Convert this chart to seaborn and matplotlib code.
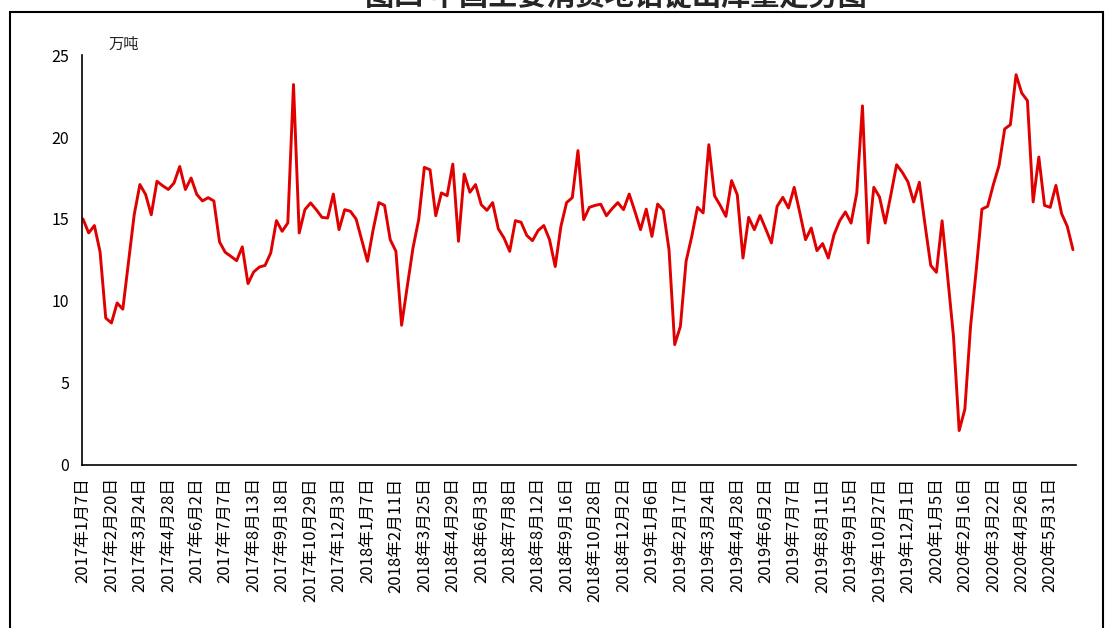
import numpy as np
import pandas as pd
import matplotlib
matplotlib.use("Agg")
import matplotlib.pyplot as plt
from matplotlib.patches import Rectangle
from matplotlib.ticker import FixedLocator
import seaborn as sns

# ── Data (weekly, 万吨) ─────────────────────
TITLE = "图四 中国主要消费地铝锭出库量走势图"
UNIT = "万吨"

values = [
    15.0, 14.15, 14.6, 13.0, 8.96, 8.66, 9.88, 9.5, 12.4, 15.26,
    17.1, 16.5, 15.26, 17.3, 17.03, 16.8, 17.2, 18.2, 16.8, 17.5,
    16.5, 16.1, 16.3, 16.1, 13.6, 12.97, 12.72, 12.46, 13.3, 11.06,
    11.77, 12.07, 12.17, 12.93, 14.9, 14.25, 14.76, 23.2, 14.15, 15.57,
    15.98, 15.57, 15.1, 15.06, 16.52, 14.35, 15.57, 15.47, 15.0, 13.7,
    12.42, 14.35, 16.0, 15.83, 13.74, 13.03, 8.52, 10.9, 13.23, 14.96,
    18.15, 18.0, 15.2, 16.59, 16.42, 18.35, 13.64, 17.74, 16.63, 17.1,
    15.87, 15.53, 16.0, 14.4, 13.84, 13.03, 14.9, 14.8, 14.0, 13.68,
    14.3, 14.6, 13.74, 12.1, 14.55, 16.0, 16.3, 19.17, 14.96, 15.71,
    15.83, 15.9, 15.2, 15.63, 16.0, 15.57, 16.52, 15.47, 14.35, 15.6,
    13.94, 15.91, 15.53, 13.13, 7.34, 8.45, 12.42, 13.94, 15.71, 15.37,
    19.53, 16.42, 15.83, 15.16, 17.34, 16.48, 12.62, 15.1, 14.35, 15.22,
    14.39, 13.54, 15.77, 16.32, 15.67, 16.93, 15.37, 13.74, 14.45, 13.07,
    13.5, 12.62, 14.04, 14.89, 15.43, 14.75, 16.58, 21.9, 13.54, 16.93,
    16.34, 14.75, 16.48, 18.31, 17.85, 17.26, 16.04, 17.24, 14.65, 12.17,
    11.75, 14.89, 11.4, 7.84, 2.1, 3.4, 8.45, 11.9, 15.6, 15.77,
    17.09, 18.25, 20.49, 20.75, 23.8, 22.68, 22.21, 16.04, 18.78, 15.83,
    15.71, 17.05, 15.33, 14.55, 13.13,
]

# every 5th week carries a label
tick_labels = [
    "2017年1月7日", "2017年2月20日", "2017年3月24日", "2017年4月28日", "2017年6月2日",
    "2017年7月7日", "2017年8月13日", "2017年9月18日", "2017年10月29日", "2017年12月3日",
    "2018年1月7日", "2018年2月11日", "2018年3月25日", "2018年4月29日", "2018年6月3日",
    "2018年7月8日", "2018年8月12日", "2018年9月16日", "2018年10月28日", "2018年12月2日",
    "2019年1月6日", "2019年2月17日", "2019年3月24日", "2019年4月28日", "2019年6月2日",
    "2019年7月7日", "2019年8月11日", "2019年9月15日", "2019年10月27日", "2019年12月1日",
    "2020年1月5日", "2020年2月16日", "2020年3月22日", "2020年4月26日", "2020年5月31日",
]
LABEL_STEP = 5

df = pd.DataFrame({"week": np.arange(len(values)), "value": values})

# ── Style ───────────────────────────────────
sns.set_style("white")
plt.rcParams["font.family"] = ["Noto Sans CJK SC", "DejaVu Sans"]

fig = plt.figure(figsize=(11.06, 6.28), dpi=100, facecolor="white")
ax = fig.add_axes([0.0737, 0.2596, 0.899, 0.6528])

sns.lineplot(data=df, x="week", y="value", ax=ax, color="#e00000", linewidth=2.1)

ax.set_xlim(-0.26, len(values) - 0.5)
ax.set_ylim(0, 25)
ax.set_yticks([0, 5, 10, 15, 20, 25])
ax.set_xlabel("")
ax.set_ylabel("")

ax.set_xticks(np.arange(0, len(tick_labels) * LABEL_STEP, LABEL_STEP))
ax.set_xticklabels(tick_labels, rotation=90, fontsize=12)
ax.xaxis.set_minor_locator(FixedLocator(np.arange(2, len(values), 2)))

ax.tick_params(axis="x", which="major", length=0, pad=9)
ax.tick_params(axis="x", which="minor", direction="in", length=3.5, width=1.1, color="black")
ax.tick_params(axis="y", direction="in", length=5, width=1.1, labelsize=11.5, pad=9, color="black")
ax.tick_params(axis="both", labelcolor="black")

for side in ["top", "right"]:
    ax.spines[side].set_visible(False)
for side in ["left", "bottom"]:
    ax.spines[side].set_color("black")
    ax.spines[side].set_linewidth(1.2)

ax.text(0.027, 1.025, UNIT, transform=ax.transAxes, fontsize=11, ha="left", va="center")

# title, clipped by the top edge as in the source image
fig.text(0.557, 1.007, TITLE, fontsize=21, fontweight="bold", ha="center", va="center")

# outer frame
frame = Rectangle((10 / 1106, -0.05), (1103 - 10) / 1106, 1.05 - 12 / 628,
                  transform=fig.transFigure, fill=False, edgecolor="black",
                  linewidth=1.5, clip_on=False)
fig.patches.append(frame)

plt.savefig("out.png", dpi=100, facecolor="white")
